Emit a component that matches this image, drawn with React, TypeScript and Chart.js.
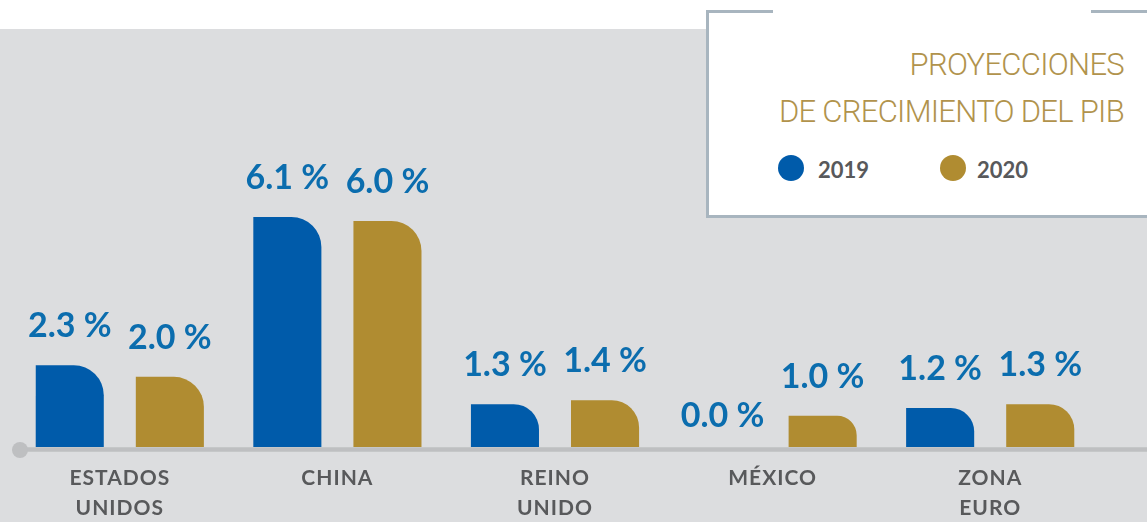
import React, { useEffect, useRef } from "react";
import { Chart, registerables } from "chart.js";

Chart.register(...registerables);

const categories: string[][] = [["ESTADOS", "UNIDOS"], ["CHINA"], ["REINO", "UNIDO"], ["MÉXICO"], ["ZONA", "EURO"]];
const series2019: number[] = [2.3, 6.1, 1.3, 0.0, 1.2];
const series2020: number[] = [2.0, 6.0, 1.4, 1.0, 1.3];
const seriesLabels: string[] = ["2019", "2020"];
const titleLines: string[] = ["PROYECCIONES", "DE CRECIMIENTO DEL PIB"];

const BLUE = "#005BAA";
const GOLD = "#B08C31";
const LABEL_BLUE = "#0B6DAE";
const GRAY_TEXT = "#58595B";
const AXIS_GRAY = "#BEBFC1";
const BG_GRAY = "#DCDDDF";
const BOX_BORDER = "#A8B5BF";
const TITLE_GOLD = "#B1934C";

const W = 1147;
const H = 522;

const letterSpacingPlugin = {
  id: "letterSpacing",
  beforeDraw(chart: any) {
    (chart.ctx as any).letterSpacing = "1px";
  },
  beforeDatasetsDraw(chart: any) {
    (chart.ctx as any).letterSpacing = "0px";
  },
};

const axisPlugin = {
  id: "axisLine",
  afterDatasetsDraw(chart: any) {
    const ctx = chart.ctx;
    const y = chart.chartArea.bottom + 2.5;
    ctx.save();
    ctx.strokeStyle = AXIS_GRAY;
    ctx.lineWidth = 4.5;
    ctx.beginPath();
    ctx.moveTo(20, y);
    ctx.lineTo(chart.width, y);
    ctx.stroke();
    ctx.fillStyle = AXIS_GRAY;
    ctx.beginPath();
    ctx.arc(20, y + 0.5, 8, 0, Math.PI * 2);
    ctx.fill();
    ctx.restore();
  },
};

const valueLabelPlugin = {
  id: "valueLabels",
  afterDatasetsDraw(chart: any) {
    const ctx = chart.ctx;
    ctx.save();
    (ctx as any).letterSpacing = "0px";
    ctx.font = "bold 34px Lato";
    ctx.fillStyle = LABEL_BLUE;
    ctx.textAlign = "center";
    ctx.textBaseline = "alphabetic";
    chart.data.datasets.forEach((ds: any, i: number) => {
      const meta = chart.getDatasetMeta(i);
      meta.data.forEach((bar: any, j: number) => {
        const v = ds.data[j] as number;
        const top = Math.min(bar.y, bar.base);
        ctx.fillText(v.toFixed(1) + " %", bar.x, top - 28);
      });
    });
    ctx.restore();
  },
};

export default function App() {
  const canvasRef = useRef<HTMLCanvasElement | null>(null);

  useEffect(() => {
    document.body.style.margin = "0";
    const canvas = canvasRef.current;
    if (!canvas) return;
    const chart = new Chart(canvas, {
      type: "bar",
      data: {
        labels: categories,
        datasets: [
          {
            label: seriesLabels[0],
            data: series2019,
            backgroundColor: BLUE,
            borderRadius: { topRight: 30 },
            borderSkipped: "start",
            clip: 0,
          } as any,
          {
            label: seriesLabels[1],
            data: series2020,
            backgroundColor: GOLD,
            borderRadius: { topRight: 30 },
            borderSkipped: "start",
            clip: 0,
          } as any,
        ],
      },
      options: {
        animation: false,
        responsive: false,
        maintainAspectRatio: false,
        devicePixelRatio: 1,
        layout: { padding: { left: 11, right: 48, top: 182, bottom: 0 } },
        categoryPercentage: 0.92,
        barPercentage: 0.68,
        plugins: {
          legend: { display: false },
          tooltip: { enabled: false },
          title: { display: false },
        },
        scales: {
          x: {
            grid: { display: false },
            border: { display: false },
            ticks: {
              color: GRAY_TEXT,
              font: { family: "Lato", weight: "bold", size: 21, lineHeight: 30 / 21 },
              padding: 8,
              maxRotation: 0,
              autoSkip: false,
            },
            afterFit(scale: any) {
              scale.height = 75;
            },
          },
          y: {
            display: false,
            min: 0.2,
            max: 7,
          },
        },
      } as any,
      plugins: [letterSpacingPlugin, valueLabelPlugin, axisPlugin],
    });
    return () => chart.destroy();
  }, []);

  return (
    <div
      style={{
        position: "fixed",
        left: 0,
        top: 0,
        width: W,
        height: H,
        background: "#FFFFFF",
        overflow: "hidden",
        fontFamily: "Lato, sans-serif",
      }}
    >
      <div style={{ position: "absolute", left: 0, top: 29, width: W, height: H - 29, background: BG_GRAY }} />
      <canvas ref={canvasRef} width={W} height={H} style={{ position: "absolute", left: 0, top: 0, width: W, height: H }} />
      <div
        style={{
          position: "absolute",
          left: 706,
          top: 10,
          width: 460,
          height: 208,
          boxSizing: "border-box",
          border: `3px solid ${BOX_BORDER}`,
          background: "#FFFFFF",
        }}
      />
      <div style={{ position: "absolute", left: 773, top: 9, width: 318, height: 5, background: "#FFFFFF" }} />
      {titleLines.map((t, i) => (
        <div
          key={t}
          style={{
            position: "absolute",
            right: W - 1124,
            top: 49 + i * 47,
            fontFamily: "Roboto, sans-serif",
            fontWeight: 300,
            fontSize: 31,
            lineHeight: "31px",
            letterSpacing: "-0.7px",
            color: TITLE_GOLD,
            whiteSpace: "nowrap",
          }}
        >
          {t}
        </div>
      ))}
      {[
        { label: seriesLabels[0], color: BLUE, cx: 791, tx: 818 },
        { label: seriesLabels[1], color: GOLD, cx: 953, tx: 977 },
      ].map((it) => (
        <React.Fragment key={it.label}>
          <div
            style={{
              position: "absolute",
              left: it.cx - 13,
              top: 155,
              width: 26,
              height: 26,
              borderRadius: "50%",
              background: it.color,
            }}
          />
          <div
            style={{
              position: "absolute",
              left: it.tx,
              top: 159,
              fontFamily: "Lato, sans-serif",
              fontWeight: 700,
              fontSize: 22,
              lineHeight: "22px",
              color: GRAY_TEXT,
            }}
          >
            {it.label}
          </div>
        </React.Fragment>
      ))}
    </div>
  );
}
